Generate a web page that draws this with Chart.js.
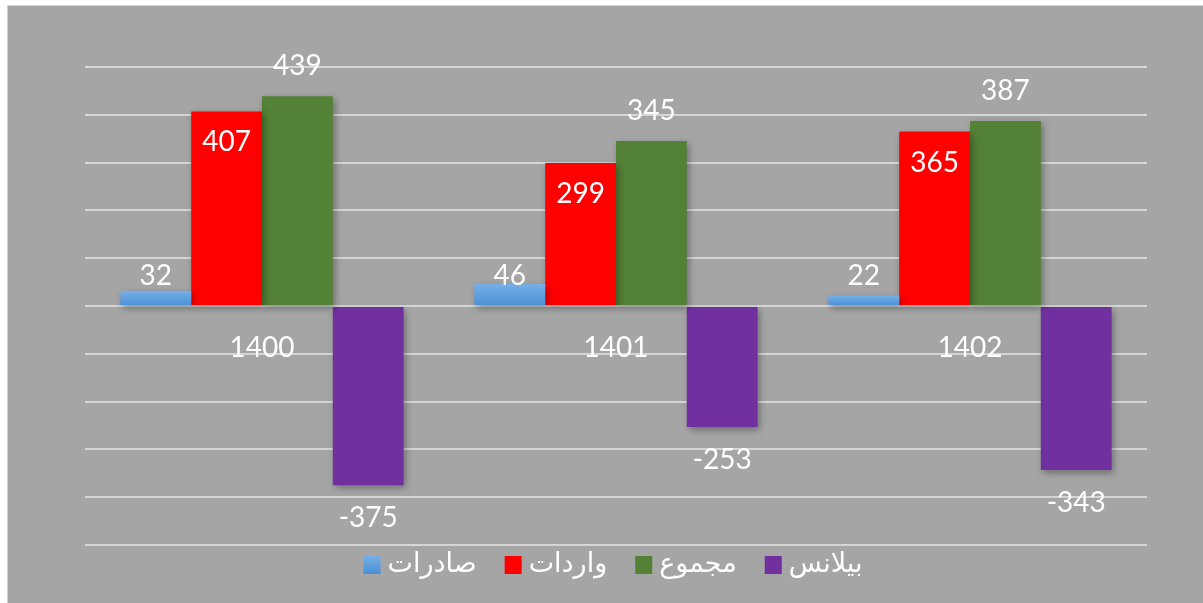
<!DOCTYPE html>
<html>
<head>
<meta charset="utf-8">
<script src="https://cdn.jsdelivr.net/npm/chart.js@4.4.1/dist/chart.umd.min.js"></script>
<style>
  html, body { margin: 0; padding: 0; background: #ffffff; }
  #wrap { position: absolute; left: 7px; top: 5px; width: 1196px; height: 598px;
          box-sizing: border-box; border-top: 1px solid #d4d4d4; border-left: 1px solid #d4d4d4;
          background: #a5a5a5; }
  #c { display: block; }
</style>
</head>
<body>
<div id="wrap"><canvas id="c" width="1195" height="597"></canvas></div>
<script>
const categories = ['1400', '1401', '1402'];
const seriesNames = ['صادرات', 'واردات', 'مجموع', 'بیلانس'];
const exportsVals = [32, 46, 22];
const importsVals = [407, 299, 365];
const totalVals = [439, 345, 387];
const balanceVals = [-375, -253, -343];
const yMin = -500, yMax = 500, yStep = 100;

const FONT = "Lato, 'DejaVu Sans', sans-serif";
const LEGEND_FONT = "27px 'DejaVu Sans', sans-serif";

function blueGradient(c, top, bot) {
  const g = c.createLinearGradient(0, top, 0, bot);
  g.addColorStop(0, '#76b0e6');
  g.addColorStop(1, '#4a8fd6');
  return g;
}

function blueFill(ctx) {
  const chart = ctx.chart;
  if (!chart.chartArea || ctx.type !== 'data') return '#5b9bd5';
  const ys = chart.scales.y;
  const top = ys.getPixelForValue(ctx.raw);
  const bot = ys.getPixelForValue(0);
  if (!isFinite(top) || !isFinite(bot) || top === bot) return '#5b9bd5';
  return blueGradient(chart.ctx, top, bot);
}

const labelPlugin = {
  id: 'labelsAndShadow',
  beforeDatasetsDraw(chart) {
    const c = chart.ctx;
    c.save();
    c.shadowColor = 'rgba(0,0,0,0.35)';
    c.shadowBlur = 7;
    c.shadowOffsetX = 2;
    c.shadowOffsetY = 3;
  },
  afterDatasetsDraw(chart) {
    const c = chart.ctx;
    c.restore();
    const ys = chart.scales.y, xs = chart.scales.x;
    const zero = ys.getPixelForValue(0);
    c.save();
    c.fillStyle = '#ffffff';
    c.font = "28px " + FONT;
    c.textAlign = 'center';
    c.textBaseline = 'middle';
    chart.data.datasets.forEach((ds, i) => {
      const meta = chart.getDatasetMeta(i);
      meta.data.forEach((el, j) => {
        const v = ds.data[j];
        let y;
        if (i === 0) y = zero - 30;
        else if (i === 1) y = el.y + 31;
        else if (i === 2) y = el.y - 30;
        else y = el.y + 33;
        c.fillText(String(v), el.x, y);
      });
    });
    categories.forEach((cat, j) => {
      c.fillText(cat, xs.getPixelForValue(j), zero + 42);
    });
    c.restore();

    // legend (left-to-right: box, gap, text)
    const area = chart.chartArea;
    c.save();
    c.font = LEGEND_FONT;
    c.textBaseline = 'middle';
    c.textAlign = 'left';
    const boxW = 17, boxH = 18, gapBox = 7, gapItem = 28;
    const widths = seriesNames.map(n => c.measureText(n).width);
    let total = 0;
    widths.forEach((w, i) => { total += boxW + gapBox + w + (i < widths.length - 1 ? gapItem : 0); });
    let x = (area.left + area.right) / 2 - 3 - total / 2;
    const cy = area.bottom + 20;
    chart.data.datasets.forEach((ds, i) => {
      if (i === 0) c.fillStyle = blueGradient(c, cy - boxH / 2, cy + boxH / 2);
      else c.fillStyle = ds.backgroundColor;
      c.fillRect(x, cy - boxH / 2, boxW, boxH);
      x += boxW + gapBox;
      c.fillStyle = '#ffffff';
      c.fillText(seriesNames[i], x, cy);
      x += widths[i] + gapItem;
    });
    c.restore();
  }
};

new Chart(document.getElementById('c'), {
  type: 'bar',
  data: {
    labels: categories,
    datasets: [
      { label: seriesNames[0], data: exportsVals, backgroundColor: blueFill },
      { label: seriesNames[1], data: importsVals, backgroundColor: '#ff0000' },
      { label: seriesNames[2], data: totalVals, backgroundColor: '#538135' },
      { label: seriesNames[3], data: balanceVals, backgroundColor: '#7030a0' }
    ]
  },
  options: {
    responsive: false,
    animation: false,
    devicePixelRatio: 1,
    layout: { padding: { left: 77, right: 56, top: 61, bottom: 58 } },
    datasets: { bar: { categoryPercentage: 0.8, barPercentage: 1.0, borderWidth: 0 } },
    scales: {
      x: { display: false },
      y: {
        min: yMin, max: yMax,
        ticks: { display: false, stepSize: yStep },
        grid: { color: '#d6d6d6', lineWidth: 2, drawTicks: false },
        border: { display: false }
      }
    },
    plugins: {
      legend: { display: false },
      tooltip: { enabled: false }
    }
  },
  plugins: [labelPlugin]
});
</script>
</body>
</html>
